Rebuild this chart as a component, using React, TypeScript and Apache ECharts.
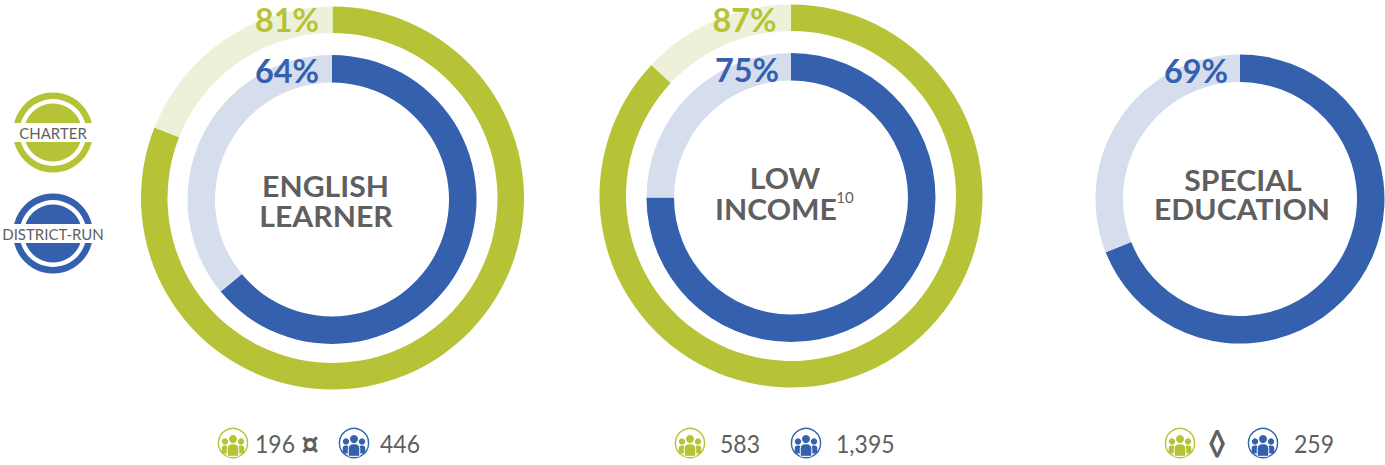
import React, { useEffect, useRef } from "react";
import * as echarts from "echarts";

const FONT = "Lato, 'Noto Sans', sans-serif";
const GREEN = "#b6c337";
const GREEN_LIGHT = "#eef1d9";
const BLUE = "#3460ae";
const BLUE_LIGHT = "#d6deee";
const GREY = "#5f5f5f";

const charterValues = [81, 87];
const districtValues = [64, 75, 69];
const charterCenters = [[332.5, 198], [791, 196]];
const districtCenters = [[332, 199.5], [791, 197.5], [1240, 199]];
const charterLabelPos = [[319, 19], [776.5, 19.5]];
const districtLabelPos = [[319, 70], [779, 69], [1228, 70]];
const titleLines = [["ENGLISH", "LEARNER"], ["LOW", "INCOME"], ["SPECIAL", "EDUCATION"]];
const titleX = [[325.5, 326], [785, 776], [1243, 1242]];
const titleY = [[186, 216], [178, 209], [180, 209]];
const bottomLabels = [
  { t: "196", x: 255, a: "left", w: 400, s: 25 }, { t: "¤", x: 310, a: "center", w: 700, s: 36 }, { t: "446", x: 380, a: "left", w: 400, s: 25 },
  { t: "583", x: 720, a: "left", w: 400, s: 25 }, { t: "1,395", x: 836, a: "left", w: 400, s: 25 },
  { t: "◊", x: 1217, a: "center", w: 700, s: 34 }, { t: "259", x: 1294, a: "left", w: 400, s: 25 },
];
const peopleIcons = [
  [233, GREEN], [354, BLUE], [690, GREEN], [806, BLUE], [1180, GREEN], [1263, BLUE],
] as [number, string][];
const legendItems = [
  { label: "CHARTER", color: GREEN, cy: 132.5, size: 15 },
  { label: "DISTRICT-RUN", color: BLUE, cy: 233.5, size: 15 },
];

function ring(center: number[], value: number, r0: number, r1: number, fg: string, bg: string) {
  return {
    type: "pie",
    silent: true,
    center,
    radius: [r0, r1],
    startAngle: 90,
    clockwise: true,
    label: { show: false },
    labelLine: { show: false },
    itemStyle: { borderWidth: 0 },
    data: [
      { value, itemStyle: { color: fg } },
      { value: 100 - value, itemStyle: { color: bg } },
    ],
  };
}

function person(x: number, y: number, headR: number, w: number, h: number, color: string, outline: boolean) {
  const edge = outline ? { stroke: "#fff", lineWidth: 1 } : {};
  return [
    { type: "circle", z: 20, shape: { cx: x, cy: y, r: headR }, style: { fill: color } },
    {
      type: "rect",
      z: 20,
      shape: { x: x - w / 2, y: y + headR + 0.8, width: w, height: h, r: [w / 2.4, w / 2.4, 1, 1] },
      style: { fill: color, ...edge },
    },
  ];
}

function peopleIcon(cx: number, color: string) {
  const cy = 443;
  return [
    { type: "circle", z: 19, shape: { cx, cy, r: 14.6 }, style: { fill: "#fff", stroke: color, lineWidth: 1.4 } },
    ...person(cx - 8, cy - 1.5, 3.2, 6.5, 8, color, false),
    ...person(cx + 8, cy - 1.5, 3.2, 6.5, 8, color, false),
    ...person(cx, cy - 4, 4, 11.5, 12.5, color, true),
  ];
}

function legend(item: (typeof legendItems)[number]) {
  const cx = 53;
  const { cy, color, label, size } = item;
  return [
    { type: "ring", z: 20, shape: { cx, cy, r: 40, r0: 33.5 }, style: { fill: color } },
    { type: "circle", z: 20, shape: { cx, cy, r: 29 }, style: { fill: color } },
    { type: "rect", z: 21, shape: { x: cx - 41, y: cy - 9.5, width: 82, height: 19 }, style: { fill: "#fff" } },
    {
      type: "text",
      z: 22,
      style: { x: cx, y: cy, text: label, fill: GREY, font: `400 ${size}px ${FONT}`, align: "center", verticalAlign: "middle" },
    },
  ];
}

function text(x: number, y: number, t: string, color: string, size: number, weight: number, align = "center", scaleX = 1) {
  return {
    type: "text",
    z: 30,
    x,
    y,
    scaleX,
    style: { x: 0, y: 0, text: t, fill: color, font: `${weight} ${size}px ${FONT}`, align, verticalAlign: "middle" },
  };
}

export default function App() {
  const ref = useRef<HTMLDivElement>(null);
  useEffect(() => {
    const chart = echarts.init(ref.current!, undefined, { renderer: "svg" });
    const elements: any[] = [];
    legendItems.forEach((l) => elements.push(...legend(l)));
    charterValues.forEach((v, i) =>
      elements.push(text(charterLabelPos[i][0], charterLabelPos[i][1], `${v}%`, GREEN, 33, 700, "right", 0.98))
    );
    districtValues.forEach((v, i) =>
      elements.push(text(districtLabelPos[i][0], districtLabelPos[i][1], `${v}%`, BLUE, 33, 700, "right", 0.98))
    );
    titleLines.forEach((lines, i) =>
      lines.forEach((l, j) => elements.push(text(titleX[i][j], titleY[i][j], l, GREY, 29, 700, "center", 1.04)))
    );
    elements.push(text(845, 197, "10", GREY, 15, 400));
    peopleIcons.forEach(([x, c]) => elements.push(...peopleIcon(x, c)));
    bottomLabels.forEach((b) => elements.push(text(b.x, 443, b.t, GREY, b.s, b.w, b.a, 0.92)));
    chart.setOption({
      animation: false,
      backgroundColor: "#fff",
      series: [
        ...charterValues.map((v, i) => ring(charterCenters[i], v, 165, 191.5, GREEN, GREEN_LIGHT)),
        ...districtValues.map((v, i) => ring(districtCenters[i], v, 117, 144.5, BLUE, BLUE_LIGHT)),
      ],
      graphic: { elements },
    });
    return () => chart.dispose();
  }, []);
  return <div ref={ref} style={{ position: "fixed", left: 0, top: 0, width: 1385, height: 465 }} />;
}
